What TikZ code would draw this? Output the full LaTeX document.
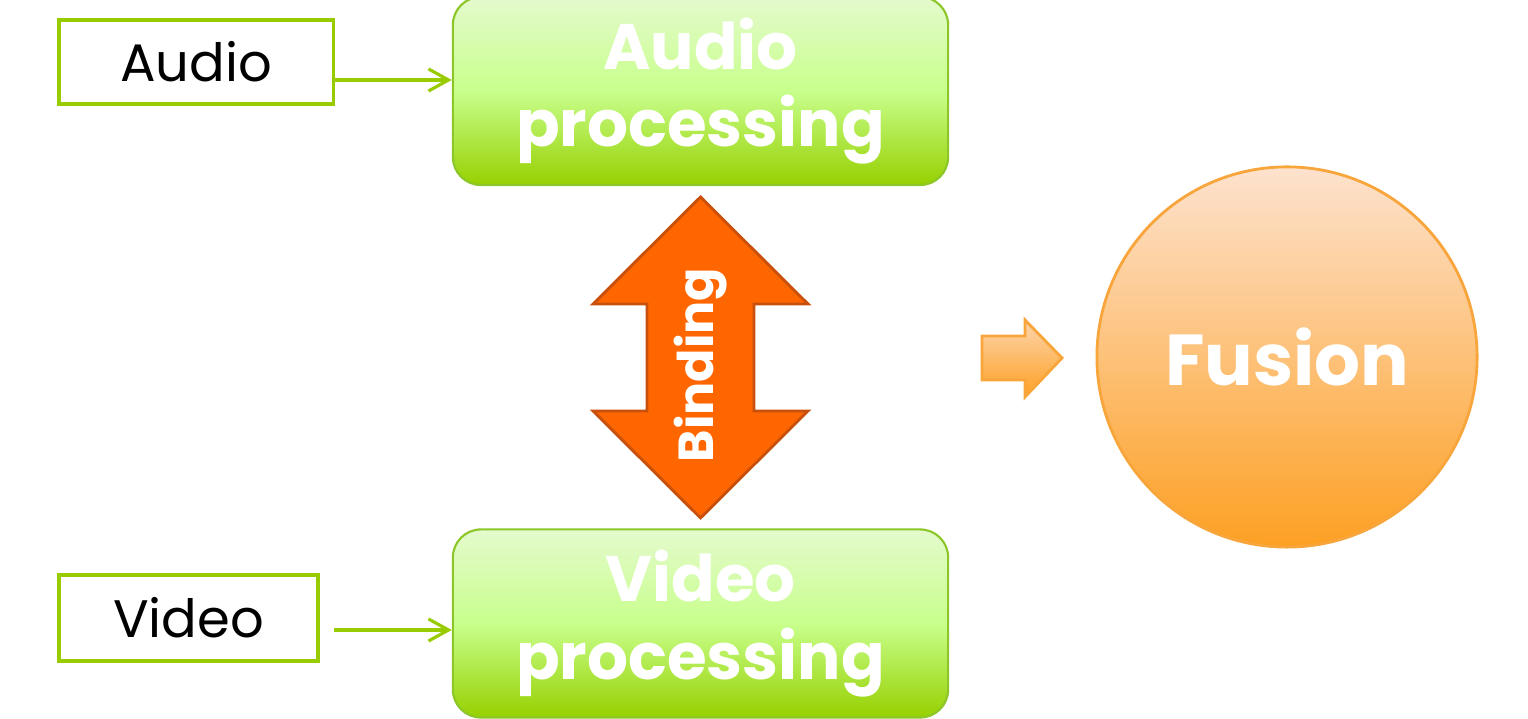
\documentclass[tikz,border=0pt]{standalone}
\usepackage{fontspec}
\setmainfont{Poppins}
\usepackage{tikz}
\usetikzlibrary{positioning,arrows.meta}
\definecolor{lime}{RGB}{153,204,0}
\definecolor{limeedge}{RGB}{140,198,40}
\definecolor{proctop}{RGB}{228,250,205}
\definecolor{procmid}{RGB}{200,255,140}
\definecolor{procbot}{RGB}{150,208,0}
\definecolor{bindfill}{RGB}{255,102,0}
\definecolor{bindedge}{RGB}{200,80,10}
\definecolor{fustop}{RGB}{253,226,206}
\definecolor{fusbot}{RGB}{253,160,35}
\definecolor{fusedge}{RGB}{248,165,60}
\tikzstyle{input} = [rectangle, draw=lime, line width=0.9pt, fill=white, text centered,
font=\fontsize{15}{18}\selectfont]
\tikzstyle{process} = [rectangle, rounded corners=0.28cm, draw=limeedge, line width=0.6pt,
top color=proctop, bottom color=procbot, middle color=procmid, text=white, align=center,
minimum width=4.95cm, minimum height=1.88cm, font=\bfseries\fontsize{18.3}{22}\selectfont]
\tikzstyle{fusion} = [circle, draw=fusedge, line width=0.8pt, top color=fustop, bottom color=fusbot,
minimum size=3.8cm, inner sep=0pt, text=white, font=\bfseries\fontsize{20.5}{24}\selectfont]
\tikzstyle{arrow} = [line width=0.9pt, draw=lime, -{Straight Barb[length=2mm,width=2.2mm]}]
\tikzstyle{bind} = [draw=bindedge, line width=0.8pt, fill=bindfill, line join=miter]
\tikzstyle{blockarrow} = [draw=fusedge, line width=0.8pt, top color=fustop!80!fusbot, bottom color=fusbot]
\begin{document}
\begin{tikzpicture}[x=0.01cm, y=0.01cm]
                 \useasboundingbox (0,0) rectangle (1528,719);
                 \node (aproc) [process] at (700.5,628) {Audio\\processing};
                 \node (vproc) [process] at (700.5,95.5) {Video\\processing};
                 \node (audio) [input, minimum width=2.74cm, minimum height=0.84cm] at (196,657) {Audio};
                 \node (video) [input, minimum width=2.59cm, minimum height=0.86cm] at (188.5,101) {Video};
                 \node (fusion) [fusion] at (1287,362) {Fusion};
                 \draw [arrow] (audio.east |- 0,639) -- (aproc.west |- 0,639);
                 \draw [arrow] ([xshift=0.14cm]video.east |- 0,89) -- (vproc.west |- 0,89);
                 % binding between the two streams
                 \draw [bind] (700.5,522) -- (808,415) -- (754,415) -- (754,308) -- (808,308)
                     -- (700.5,201) -- (593,308) -- (647,308) -- (647,415) -- (593,415) -- cycle;
                 \node (binding) [rotate=90, text=white, font=\bfseries\fontsize{14}{17}\selectfont]
                     at (700.5,354) {Binding};
                 % into the fusion
                 \path [blockarrow] (982,339) -- (1025,339) -- (1025,322) -- (1062,361)
                     -- (1025,399) -- (1025,383) -- (982,383) -- cycle;
             \end{tikzpicture}
\end{document}
